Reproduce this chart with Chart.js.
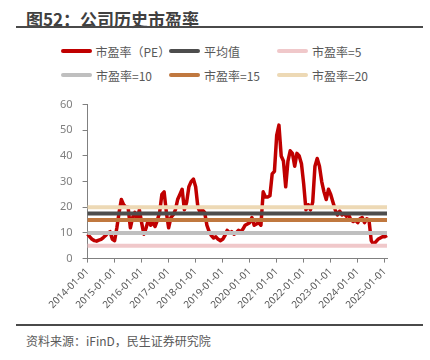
<!DOCTYPE html>
<html>
<head>
<meta charset="utf-8">
<script src="https://cdn.jsdelivr.net/npm/chart.js@4.4.1/dist/chart.umd.min.js"></script>
<style>
  body { margin: 0; background: #fff; font-family: "Noto Sans CJK SC", "Noto Sans", sans-serif; }
  #wrap { position: relative; width: 430px; height: 360px; overflow: hidden; }
  #title { position: absolute; left: 26px; top: 6px; font-size: 17px; font-weight: bold; color: #404040; }
  .rule { position: absolute; left: 16px; width: 407px; height: 2px; background: #4a4a4a; }
  #legend { position: absolute; left: 61px; top: 42px; display: grid; grid-template-columns: 108px 108px 108px; row-gap: 6px; }
  .item { display: flex; align-items: center; font-size: 12px; color: #595959; height: 18px; }
  .swatch { width: 31px; height: 4px; border-radius: 2px; margin-right: 4px; }
  #source { position: absolute; left: 26px; top: 332px; font-size: 12px; color: #595959; }
  #box { position: absolute; left: 0; top: 88px; width: 430px; height: 226px; }
</style>
</head>
<body>
<div id="wrap">
  <div id="title">图52：公司历史市盈率</div>
  <div class="rule" style="top:26px"></div>
  <div id="legend"></div>
  <div id="box"><canvas id="c"></canvas></div>
  <div class="rule" style="top:324px"></div>
  <div id="source">资料来源：iFinD，民生证券研究院</div>
</div>
<script>
// 月度市盈率，2014-01 起
const startYear = 2014;
const peValues = [
  9.5, 8.5, 7.5, 7, 6.8, 7.2, 7.5, 8.2, 9, 10, 10.5, 7.5,         // 2014
  7, 12, 18, 23, 21, 20, 20, 12, 16, 18, 15, 19,                  // 2015
  14, 9.5, 12, 15, 13, 14, 12.5, 15, 18, 25, 26, 18,              // 2016
  12, 16, 17, 19, 23, 25, 27, 19, 22, 28, 30, 31,                 // 2017
  28, 20, 18, 19, 18, 13, 10.5, 9, 8, 8.5, 7.5, 7,                // 2018
  7.5, 9, 11, 10, 10.5, 9.5, 10, 11, 10.5, 11.5, 13, 13.5,        // 2019
  14, 16, 13, 13.5, 14, 13, 26, 24, 24, 24.5, 33, 34,             // 2020
  48, 52, 40, 38, 28, 38, 42, 41, 36, 41, 40, 37,                 // 2021
  29, 19, 21, 19, 22, 36, 39, 36, 30, 26, 23, 27,                 // 2022
  25, 22, 19, 17, 18.5, 17, 17.5, 16.5, 17, 15, 14.5, 15,         // 2023
  14, 15.5, 16, 14, 15.5, 15, 7, 5.5, 6.5, 7.5, 8, 8.5,           // 2024
  8.5, 9                                                          // 2025
];
const avgPE = 17.6;
const refLevels = [5, 10, 15, 20];
const refColors = ['#F0C8CA', '#BFBFBF', '#C0783F', '#EDD9B5'];
const yTicks = [0, 10, 20, 30, 40, 50, 60];

const labels = peValues.map((v, i) => {
  const y = startYear + Math.floor(i / 12);
  const m = String(i % 12 + 1).padStart(2, '0');
  return y + '-' + m + '-01';
});

const flat = v => labels.map(() => v);

const datasets = [
  { label: '市盈率（PE）', data: peValues, borderColor: '#C00000', borderWidth: 3.5, order: 10 },
  { label: '平均值', data: flat(avgPE), borderColor: '#4D4D4D', borderWidth: 4, order: 1 }
];
refLevels.forEach((lv, i) => {
  datasets.push({ label: '市盈率=' + lv, data: flat(lv), borderColor: refColors[i], borderWidth: 4, order: 2 });
});

// 图例
const legend = document.getElementById('legend');
datasets.forEach(d => {
  const el = document.createElement('div');
  el.className = 'item';
  el.innerHTML = '<span class="swatch" style="background:' + d.borderColor + '"></span>' + d.label;
  legend.appendChild(el);
});

const ctx = document.getElementById('c');
new Chart(ctx, {
  type: 'line',
  data: { labels: labels, datasets: datasets },
  options: {
    responsive: true,
    maintainAspectRatio: false,
    animation: false,
    elements: { point: { radius: 0 }, line: { tension: 0, borderJoinStyle: 'round' } },
    layout: { padding: { left: 50, right: 43, top: 7, bottom: 0 } },
    plugins: { legend: { display: false }, tooltip: { enabled: false } },
    scales: {
      x: {
        grid: { drawOnChartArea: false, tickLength: 4, color: '#808080' },
        border: { color: '#808080' },
        ticks: {
          autoSkip: false,
          maxRotation: 45,
          minRotation: 45,
          color: '#595959',
          font: { size: 10, family: 'Noto Sans' },
          callback: (v, i) => labels[i].endsWith('-01-01') ? labels[i] : null
        }
      },
      y: {
        min: 0,
        max: 60,
        grid: { drawOnChartArea: false, tickLength: 5, color: '#808080' },
        border: { color: '#808080' },
        afterBuildTicks: s => { s.ticks = yTicks.map(v => ({ value: v })); },
        ticks: { color: '#7f7f7f', padding: 10, font: { size: 11, family: 'Noto Sans' } }
      }
    }
  }
});
</script>
</body>
</html>
